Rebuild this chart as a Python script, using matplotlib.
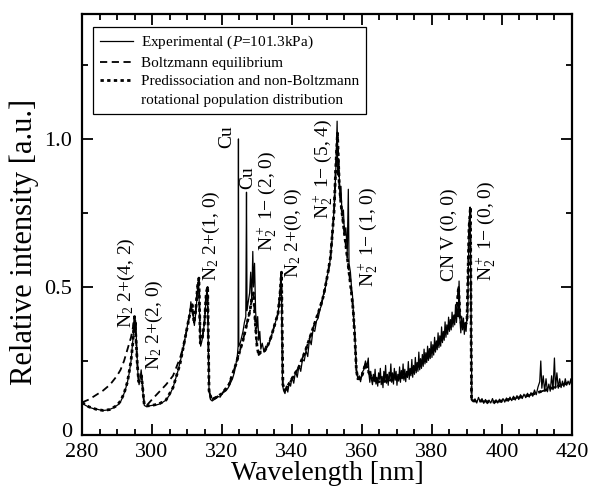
import matplotlib
matplotlib.use("Agg")
import numpy as np
import matplotlib.pyplot as plt
from matplotlib.lines import Line2D
from matplotlib.ticker import MultipleLocator
from matplotlib.transforms import ScaledTranslation

plt.rcParams['font.family'] = ['Liberation Serif', 'DejaVu Serif']
plt.rcParams['mathtext.fontset'] = 'custom'
plt.rcParams['mathtext.rm'] = 'Liberation Serif'
plt.rcParams['mathtext.it'] = 'Liberation Serif:italic'
plt.rcParams['mathtext.bf'] = 'Liberation Serif:bold'

# ---------------- data ----------------
wl_model = [280, 282, 284, 286, 288, 290, 291, 292, 293, 294, 294.5, 295, 295.4, 295.8,
            296.2, 296.6, 297.0, 297.4, 297.8, 298.5, 300, 302, 304, 306, 307, 308, 309,
            310, 311, 311.5, 312, 312.5, 313, 313.4, 313.8, 314.4, 315, 315.5, 315.9,
            316.3, 317, 318, 320, 322, 324, 325, 326, 327, 328, 328.5, 329, 329.5, 330,
            330.5, 331, 332, 333, 334, 335, 336, 336.6, 337, 337.4, 338, 339, 340, 342,
            344, 346, 348, 349, 350, 351, 352, 352.5, 353, 353.5, 354, 355, 356, 357,
            357.5, 358, 358.4, 358.8, 359.5, 360, 361, 362, 364, 366, 368, 370, 372, 374,
            376, 378, 380, 382, 384, 386, 387, 387.6, 388, 388.5, 389, 390, 390.6, 391,
            391.3, 391.6, 392, 394, 396, 398, 400, 404, 408, 412, 416, 420]

predissociation = [0.110, 0.095, 0.087, 0.083, 0.086, 0.100, 0.115, 0.140, 0.180, 0.250,
                   0.310, 0.400, 0.330, 0.240, 0.180, 0.190, 0.200, 0.150, 0.100, 0.098,
                   0.100, 0.105, 0.118, 0.160, 0.200, 0.240, 0.300, 0.360, 0.420, 0.440,
                   0.380, 0.420, 0.500, 0.530, 0.310, 0.330, 0.380, 0.480, 0.500, 0.150,
                   0.120, 0.125, 0.140, 0.170, 0.240, 0.280, 0.320, 0.370, 0.420, 0.460,
                   0.480, 0.380, 0.300, 0.270, 0.280, 0.280, 0.300, 0.330, 0.370, 0.410,
                   0.480, 0.550, 0.170, 0.150, 0.170, 0.190, 0.230, 0.290, 0.360, 0.430,
                   0.470, 0.530, 0.600, 0.750, 0.900, 1.020, 0.850, 0.780, 0.680, 0.580,
                   0.480, 0.420, 0.320, 0.220, 0.190, 0.190, 0.200, 0.240, 0.210, 0.180,
                   0.180, 0.185, 0.190, 0.195, 0.210, 0.230, 0.250, 0.280, 0.310, 0.350,
                   0.390, 0.410, 0.500, 0.400, 0.370, 0.370, 0.380, 0.700, 0.770, 0.120,
                   0.115, 0.115, 0.115, 0.112, 0.112, 0.115, 0.125, 0.135, 0.150, 0.165,
                   0.180]

boltzmann = [0.110, 0.120, 0.135, 0.150, 0.170, 0.200, 0.220, 0.250, 0.290, 0.330,
             0.360, 0.400, 0.330, 0.240, 0.180, 0.190, 0.200, 0.150, 0.100, 0.100,
             0.120, 0.145, 0.170, 0.200, 0.230, 0.260, 0.300, 0.360, 0.420, 0.440,
             0.380, 0.420, 0.500, 0.530, 0.310, 0.330, 0.380, 0.480, 0.500, 0.150,
             0.120, 0.125, 0.140, 0.170, 0.240, 0.280, 0.320, 0.370, 0.420, 0.460,
             0.480, 0.380, 0.300, 0.270, 0.280, 0.280, 0.300, 0.330, 0.370, 0.410,
             0.480, 0.550, 0.170, 0.150, 0.170, 0.190, 0.230, 0.290, 0.360, 0.430,
             0.470, 0.530, 0.600, 0.750, 0.900, 1.020, 0.850, 0.780, 0.680, 0.580,
             0.480, 0.420, 0.320, 0.220, 0.190, 0.190, 0.200, 0.240, 0.210, 0.180,
             0.180, 0.185, 0.190, 0.195, 0.210, 0.230, 0.250, 0.280, 0.310, 0.350,
             0.390, 0.410, 0.500, 0.400, 0.370, 0.370, 0.380, 0.700, 0.770, 0.120,
             0.115, 0.115, 0.115, 0.112, 0.112, 0.115, 0.125, 0.135, 0.150, 0.165,
             0.180]

# experimental spectrum, part 1 (280 - 361.8 nm)
wl_exp_1 = [280, 281, 282, 283, 284, 285, 286, 287, 288, 289, 290, 290.5, 291, 291.5, 292,
            292.5, 293, 293.5, 294, 294.3, 294.6, 294.8, 295, 295.2, 295.4, 295.6, 295.8,
            296.0, 296.3, 296.6, 296.9, 297.2, 297.5, 297.8, 298.2, 299, 300, 301, 302, 303,
            304, 305, 306, 306.5, 307, 307.5, 308, 308.5, 309, 309.5, 310, 310.4, 310.8,
            311.1, 311.4, 311.8, 312.1, 312.4, 312.7, 313.0, 313.3, 313.6, 313.9, 314.3,
            314.7, 315.1, 315.5, 315.8, 316.1, 316.3, 316.7, 317.2, 317.8, 318.5, 319,
            319.5, 320, 320.6, 321.2, 321.8, 322.4, 323, 323.5, 324, 324.4, 324.6, 324.7,
            324.8, 325.2, 325.6, 326, 326.4, 326.8, 327.0, 327.15, 327.5, 327.9, 328.2,
            328.5, 328.8, 329.0, 329.3, 329.6, 329.9, 330.2, 330.5, 330.8, 331.1, 331.5,
            332, 332.5, 333, 333.5, 334, 334.5, 335, 335.5, 336, 336.4, 336.7, 336.9,
            337.1, 337.3, 337.6, 338, 338.4, 338.8, 339.2, 339.6, 340, 340.5, 341, 341.5,
            342, 342.5, 343, 343.5, 344, 344.5, 345, 345.5, 346, 346.5, 347, 347.5, 348,
            348.5, 349, 349.5, 350, 350.5, 351, 351.4, 351.8, 352.2, 352.6, 352.9, 353.1,
            353.4, 353.7, 354, 354.3, 354.7, 355, 355.4, 355.8, 356.1, 356.3, 356.7, 357,
            357.3, 357.6, 357.9, 358.1, 358.4, 358.8, 359.2, 359.6, 360, 360.5, 361,
            361.4, 361.8]

exp_1 = [0.108, 0.100, 0.094, 0.090, 0.088, 0.085, 0.083, 0.084, 0.087, 0.092,
         0.100, 0.104, 0.112, 0.125, 0.140, 0.158, 0.180, 0.210, 0.250, 0.290,
         0.330, 0.370, 0.400, 0.350, 0.380, 0.300, 0.250, 0.200, 0.170, 0.190,
         0.220, 0.180, 0.130, 0.100, 0.097, 0.098, 0.100, 0.101, 0.104, 0.110,
         0.118, 0.135, 0.160, 0.180, 0.200, 0.220, 0.245, 0.270, 0.300, 0.330,
         0.360, 0.390, 0.410, 0.450, 0.420, 0.400, 0.370, 0.400, 0.440, 0.490,
         0.530, 0.400, 0.300, 0.320, 0.350, 0.400, 0.470, 0.500, 0.300, 0.150,
         0.120, 0.115, 0.120, 0.125, 0.130, 0.128, 0.140, 0.145, 0.150, 0.160,
         0.175, 0.190, 0.210, 0.240, 0.270, 0.300, 1.000, 0.300, 0.310, 0.330,
         0.350, 0.380, 0.400, 0.820, 0.420, 0.450, 0.480, 0.550, 0.450, 0.620,
         0.500, 0.580, 0.420, 0.360, 0.400, 0.320, 0.350, 0.290, 0.310, 0.280,
         0.300, 0.300, 0.310, 0.330, 0.350, 0.370, 0.390, 0.410, 0.450, 0.500,
         0.550, 0.350, 0.170, 0.150, 0.140, 0.165, 0.145, 0.175, 0.165, 0.195,
         0.175, 0.215, 0.195, 0.235, 0.215, 0.255, 0.250, 0.285, 0.265, 0.325,
         0.305, 0.355, 0.350, 0.385, 0.395, 0.425, 0.440, 0.475, 0.495, 0.535,
         0.555, 0.600, 0.650, 0.720, 0.800, 0.920, 1.060, 0.880, 0.920, 0.800,
         0.840, 0.740, 0.760, 0.680, 0.700, 0.620, 0.830, 0.580, 0.550, 0.500,
         0.470, 0.400, 0.360, 0.300, 0.220, 0.190, 0.200, 0.180, 0.210, 0.220,
         0.250, 0.230, 0.260]

# experimental spectrum, part 2 (362 - 390 nm, 0.25 nm sampling)
exp_2 = [0.205, 0.178, 0.215, 0.185,
         0.170, 0.205, 0.180, 0.222,
         0.172, 0.195, 0.165, 0.210,
         0.188, 0.225, 0.170, 0.198,
         0.160, 0.215, 0.182, 0.235,
         0.175, 0.205, 0.168, 0.212,
         0.190, 0.240, 0.178, 0.210,
         0.172, 0.225, 0.185, 0.215,
         0.168, 0.205, 0.182, 0.230,
         0.178, 0.218, 0.190, 0.240,
         0.185, 0.222, 0.180, 0.215,
         0.195, 0.248, 0.188, 0.225,
         0.200, 0.255, 0.195, 0.235,
         0.205, 0.262, 0.210, 0.245,
         0.215, 0.280, 0.220, 0.258,
         0.225, 0.272, 0.232, 0.290,
         0.240, 0.278, 0.245, 0.300,
         0.252, 0.292, 0.258, 0.315,
         0.262, 0.305, 0.270, 0.330,
         0.280, 0.318, 0.288, 0.345,
         0.295, 0.335, 0.300, 0.365,
         0.312, 0.350, 0.320, 0.382,
         0.330, 0.372, 0.340, 0.398,
         0.350, 0.390, 0.355, 0.415,
         0.365, 0.405, 0.372, 0.440,
         0.380, 0.425, 0.400, 0.520,
         0.390, 0.345, 0.400, 0.355,
         0.395, 0.340, 0.380, 0.350,
         0.395]
wl_exp_2 = np.arange(len(exp_2)) * 0.25 + 362.0

# experimental spectrum, part 3 (390.2 - 420 nm)
wl_exp_3 = [390.2, 390.6, 390.9, 391.2, 391.4, 391.8,
            392.3, 392.8, 393.3, 393.8, 394.3, 394.8, 395.3, 395.8, 396.3, 396.8, 397.3,
            397.8, 398.3, 398.8, 399.3, 399.8, 400.3, 400.8, 401.3, 401.8, 402.3, 402.8,
            403.3, 403.8, 404.3, 404.8, 405.3, 405.8, 406.3, 406.8, 407.3, 407.8, 408.3,
            408.8, 409.3, 409.8, 410.3, 410.8, 411.1, 411.4, 411.8, 412.2, 412.6, 413,
            413.4, 413.8, 414.2, 414.6, 415, 415.3, 415.7, 416.1, 416.5, 416.9, 417.3,
            417.7, 418.1, 418.5, 418.9, 419.3, 419.7, 420]
exp_3 = [0.400, 0.700, 0.770, 0.400, 0.120, 0.115,
         0.122, 0.108, 0.127, 0.112, 0.123, 0.107, 0.120, 0.106, 0.118, 0.108, 0.123,
         0.106, 0.119, 0.108, 0.121, 0.110, 0.123, 0.111, 0.125, 0.114, 0.128, 0.116,
         0.131, 0.118, 0.133, 0.120, 0.136, 0.123, 0.138, 0.126, 0.141, 0.128, 0.143,
         0.131, 0.152, 0.136, 0.162, 0.180, 0.250, 0.158, 0.200, 0.148, 0.190,
         0.146, 0.172, 0.148, 0.200, 0.153, 0.260, 0.158, 0.210, 0.158, 0.190,
         0.160, 0.182, 0.163, 0.190, 0.168, 0.182, 0.170, 0.190, 0.180]

label_texts = [r"N$_2$ 2+(4, 2)", r"N$_2$ 2+(2, 0)", r"N$_2$ 2+(1, 0)", "Cu", "Cu",
               r"N$_2^+$ 1− (2, 0)", r"N$_2$ 2+(0, 0)", r"N$_2^+$ 1− (5, 4)",
               r"N$_2^+$ 1− (1, 0)", "CN V (0, 0)", r"N$_2^+$ 1− (0, 0)"]
label_wl = [292.6, 300.6, 317.0, 321.3, 327.5, 332.8, 340.4, 348.9, 361.8, 385.1, 395.6]
label_base = [0.36, 0.22, 0.52, 0.97, 0.83, 0.62, 0.53, 0.73, 0.50, 0.52, 0.52]

# ---------------- figure ----------------
fig = plt.figure(figsize=(5.97, 4.88), dpi=100)
ax = fig.add_axes([0.1374, 0.1086, 0.8206, 0.8627])

wl_exp = np.concatenate([wl_exp_1, wl_exp_2, wl_exp_3])
experimental = np.concatenate([exp_1, exp_2, exp_3])

ax.plot(wl_model, boltzmann, color='black', lw=1.3, linestyle=(0, (4, 2.5)),
        label='Boltzmann equilibrium', zorder=2)
ax.plot(wl_model, predissociation, color='black', lw=2.0, linestyle=(0, (1.2, 1.2)),
        label='Predissociation and non-Boltzmann', zorder=3)
ax.plot(wl_exp, experimental, color='black', lw=0.9,
        label=r'Experimental ($P$=101.3kPa)', zorder=4)

for t, x, y in zip(label_texts, label_wl, label_base):
    ax.text(x, y, t, rotation=90, ha='center', va='bottom', fontsize=14)

ax.set_xlim(280, 420)
ax.set_ylim(0, 1.422)
ax.xaxis.set_major_locator(MultipleLocator(20))
ax.xaxis.set_minor_locator(MultipleLocator(5))
ax.yaxis.set_minor_locator(MultipleLocator(0.25))
ax.set_yticks([0, 0.5, 1.0])
ax.set_yticklabels(['0', '0.5', '1.0'])
ax.tick_params(which='both', direction='in', top=True, right=True, labelsize=16,
               width=1.3)
ax.tick_params(axis='x', pad=6)
ax.tick_params(axis='y', pad=7)
ax.tick_params(which='major', length=8)
ax.tick_params(which='minor', length=4)
for s in ax.spines.values():
    s.set_linewidth(1.6)

# the "0" label sits slightly above the bottom spine, as in the original
zero_lbl = ax.yaxis.get_major_ticks()[0].label1
zero_lbl.set_transform(zero_lbl.get_transform() +
                       ScaledTranslation(0, 5 / 100, fig.dpi_scale_trans))

ax.set_xlabel('Wavelength [nm]', fontsize=20, labelpad=-1)
ax.set_ylabel('Relative intensity [a.u.]', fontsize=22)
ax.yaxis.set_label_coords(-0.088, 0.458)

handles, labels = ax.get_legend_handles_labels()
order = [2, 0, 1]
hs = [handles[i] for i in order] + [Line2D([], [], color='none')]
ls = [labels[i] for i in order] + ['rotational population distribution']
leg = ax.legend(hs, ls, loc='upper left', bbox_to_anchor=(0.022, 0.969), fontsize=11,
                frameon=True, fancybox=False, edgecolor='black', framealpha=1,
                handlelength=2.2, handletextpad=0.5, labelspacing=0.32,
                borderpad=0.45, borderaxespad=0)
leg.get_frame().set_linewidth(0.9)

fig.savefig('out.png', dpi=100)
